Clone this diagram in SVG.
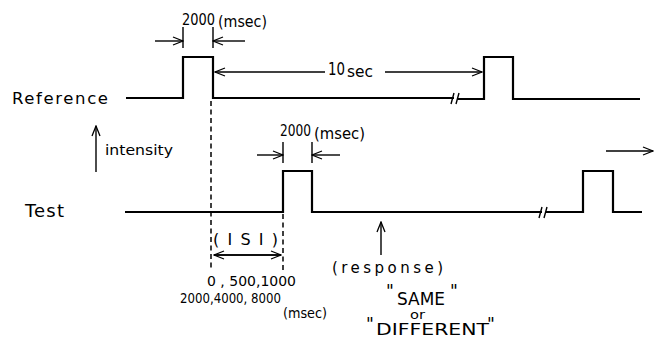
<svg xmlns="http://www.w3.org/2000/svg" width="655" height="340" viewBox="0 0 655 340">
<defs>
<marker id="ah" markerWidth="12" markerHeight="10" refX="11" refY="5" orient="auto" markerUnits="userSpaceOnUse">
<path d="M1,1 L11,5 L1,9" fill="none" stroke="#000" stroke-width="1.3"/>
</marker>
</defs>
<style>
.sig{fill:none;stroke:#000;stroke-width:2.2;stroke-linejoin:miter}
.ln{fill:none;stroke:#000;stroke-width:1.4}
.dash{fill:none;stroke:#000;stroke-width:1.5;stroke-dasharray:5,3.5}
.t{font-family:"DejaVu Sans","Liberation Sans",sans-serif;fill:#000}
</style>
<rect width="655" height="340" fill="#fff"/>
<g id="labels">
<text class="t" x="12" y="104" font-size="16.5" textLength="96" lengthAdjust="spacing">Reference</text>
<text class="t" x="25" y="217" font-size="18" textLength="39" lengthAdjust="spacing">Test</text>
<text class="t" x="105" y="155" font-size="14" textLength="68" lengthAdjust="spacingAndGlyphs">intensity</text>
</g>
<g id="reference-signal">
<path class="sig" d="M126,98 H183 V57 H213 V98 H454"/>
<path class="sig" d="M458,99 H484 V57 H513 V99 H640"/>
<path class="ln" d="M451,104 L454,93 M456,104 L459,93" stroke-width="1.8"/>
</g>
<g id="test-signal">
<path class="sig" d="M125,212 H283 V171 H312 V212 H542"/>
<path class="sig" d="M546,212 H583 V171 H613 V212 H642"/>
<path class="ln" d="M539,218 L542,207 M544,218 L547,207" stroke-width="1.8"/>
</g>
<g id="connectors">
<path class="ln" d="M96,172 V126" marker-end="url(#ah)"/>
<path class="ln" d="M183,27 V48 M213,27 V48"/>
<path class="ln" d="M155,41 H183" marker-end="url(#ah)"/>
<path class="ln" d="M245,41 H213" marker-end="url(#ah)"/>
<path class="ln" d="M325,72 H215" marker-end="url(#ah)"/>
<path class="ln" d="M385,72 H482" marker-end="url(#ah)"/>
<path class="ln" d="M283,142 V163 M312,142 V163"/>
<path class="ln" d="M257,155 H283" marker-end="url(#ah)"/>
<path class="ln" d="M340,155 H312" marker-end="url(#ah)"/>
<path class="ln" d="M606,151 H653" marker-end="url(#ah)"/>
<path class="dash" d="M211,101 V270"/>
<path class="dash" d="M283,214 V270"/>
<path class="ln" d="M214,255 H281" marker-end="url(#ah)"/>
<path class="ln" d="M281,255 H214" marker-end="url(#ah)"/>
<path class="ln" d="M381,255 V222" marker-end="url(#ah)"/>
</g>
<g id="annotations">
<text class="t" x="182" y="25" font-size="16" textLength="33" lengthAdjust="spacingAndGlyphs">2000</text>
<text class="t" x="218" y="27" font-size="15" textLength="49" lengthAdjust="spacingAndGlyphs">(msec)</text>
<text class="t" x="280" y="136" font-size="16" textLength="31" lengthAdjust="spacingAndGlyphs">2000</text>
<text class="t" x="314" y="139" font-size="15" textLength="51" lengthAdjust="spacingAndGlyphs">(msec)</text>
<text class="t" x="328" y="75" font-size="17" textLength="17" lengthAdjust="spacingAndGlyphs">10</text>
<text class="t" x="347" y="77" font-size="15" textLength="26" lengthAdjust="spacingAndGlyphs">sec</text>
<text class="t" x="213" y="245" font-size="16" textLength="65" lengthAdjust="spacing">(ISI)</text>
<text class="t" x="207" y="286" font-size="13.5" textLength="89" lengthAdjust="spacingAndGlyphs">0 , 500,1000</text>
<text class="t" x="180" y="303" font-size="13.5" textLength="101" lengthAdjust="spacingAndGlyphs">2000,4000, 8000</text>
<text class="t" x="283" y="318" font-size="14" textLength="44" lengthAdjust="spacingAndGlyphs">(msec)</text>
<text class="t" x="332" y="273" font-size="15" textLength="111" lengthAdjust="spacing">(response)</text>
<text class="t" x="397" y="305" font-size="18.5" textLength="48" lengthAdjust="spacingAndGlyphs">SAME</text>
<text class="t" x="386" y="297" font-size="17">"</text>
<text class="t" x="450" y="297" font-size="17">"</text>
<text class="t" x="410" y="319" font-size="12.5" textLength="15" lengthAdjust="spacingAndGlyphs">or</text>
<text class="t" x="376" y="335" font-size="16.5" textLength="113" lengthAdjust="spacingAndGlyphs">DIFFERENT</text>
<text class="t" x="366" y="330" font-size="17">"</text>
<text class="t" x="487" y="330" font-size="17">"</text>
</g>
</svg>
